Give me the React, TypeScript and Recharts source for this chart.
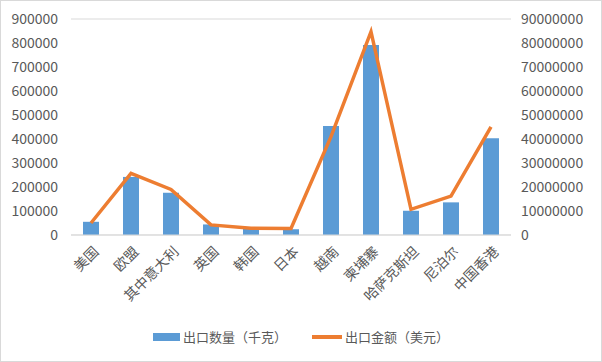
import { ComposedChart, Bar, Line, XAxis, YAxis, CartesianGrid, Legend } from "recharts";

const categories = ["美国", "欧盟", "其中意大利", "英国", "韩国", "日本", "越南", "柬埔寨", "哈萨克斯坦", "尼泊尔", "中国香港"];
const quantityKg = [55000, 242000, 176000, 44000, 28000, 24000, 454000, 792000, 101000, 136000, 403000];
const amountUsd = [5000000, 25700000, 19000000, 4200000, 2800000, 2700000, 41000000, 84700000, 10700000, 16200000, 45100000];
const leftTicks = [0, 100000, 200000, 300000, 400000, 500000, 600000, 700000, 800000, 900000];
const rightTicks = [0, 10000000, 20000000, 30000000, 40000000, 50000000, 60000000, 70000000, 80000000, 90000000];

const data = categories.map((name, i) => ({
  name,
  qty: quantityKg[i],
  amount: amountUsd[i],
}));

const FONT = '"Noto Sans CJK SC", "Noto Sans", sans-serif';
const TEXT = "#595959";

const AngledTick = (props: any) => {
  const { x, y, payload } = props;
  return (
    <g transform={`translate(${x + 5},${y + 6})`}>
      <text
        x={0}
        y={0}
        dy={5}
        textAnchor="end"
        transform="rotate(-45)"
        fill={TEXT}
        fontSize={14}
        fontFamily={FONT}
      >
        {payload.value}
      </text>
    </g>
  );
};

const LegendContent = () => (
  <div style={{ display: "flex", justifyContent: "center", alignItems: "center", fontFamily: FONT, fontSize: 13, color: TEXT, paddingTop: 6 }}>
    <span style={{ display: "inline-block", width: 27, height: 8, background: "#5B9BD5", marginRight: 3 }} />
    <span>出口数量（千克）</span>
    <span style={{ display: "inline-block", width: 30, height: 4, background: "#ED7D31", marginLeft: 25, marginRight: 3 }} />
    <span>出口金额（美元）</span>
  </div>
);

export default function App() {
  return (
    <div style={{ position: "fixed", left: 0, top: 0, width: 600, height: 360, border: "1px solid #D9D9D9", background: "#fff" }}>
      <ComposedChart
        width={600}
        height={360}
        data={data}
        margin={{ top: 18, right: 0, bottom: 10, left: 0 }}
      >
        <CartesianGrid vertical={false} stroke="#D9D9D9" />
        <XAxis
          dataKey="name"
          interval={0}
          tickLine={false}
          axisLine={{ stroke: "#D9D9D9" }}
          tick={<AngledTick />}
          height={86}
        />
        <YAxis
          yAxisId="left"
          domain={[0, 900000]}
          ticks={leftTicks}
          width={70}
          tickLine={false}
          axisLine={false}
          tickSize={0}
          tickMargin={13}
          tick={{ fill: TEXT, fontSize: 14, fontFamily: FONT }}
        />
        <YAxis
          yAxisId="right"
          orientation="right"
          domain={[0, 90000000]}
          ticks={rightTicks}
          width={90}
          tickLine={false}
          axisLine={false}
          tickSize={0}
          tickMargin={10}
          tick={{ fill: TEXT, fontSize: 14, fontFamily: FONT, textAnchor: "start" }}
        />
        <Legend verticalAlign="bottom" height={30} content={<LegendContent />} />
        <Bar yAxisId="left" dataKey="qty" fill="#5B9BD5" barSize={16} isAnimationActive={false} />
        <Line
          yAxisId="right"
          type="linear"
          dataKey="amount"
          stroke="#ED7D31"
          strokeWidth={3.5}
          dot={false}
          activeDot={false}
          isAnimationActive={false}
        />
      </ComposedChart>
    </div>
  );
}
